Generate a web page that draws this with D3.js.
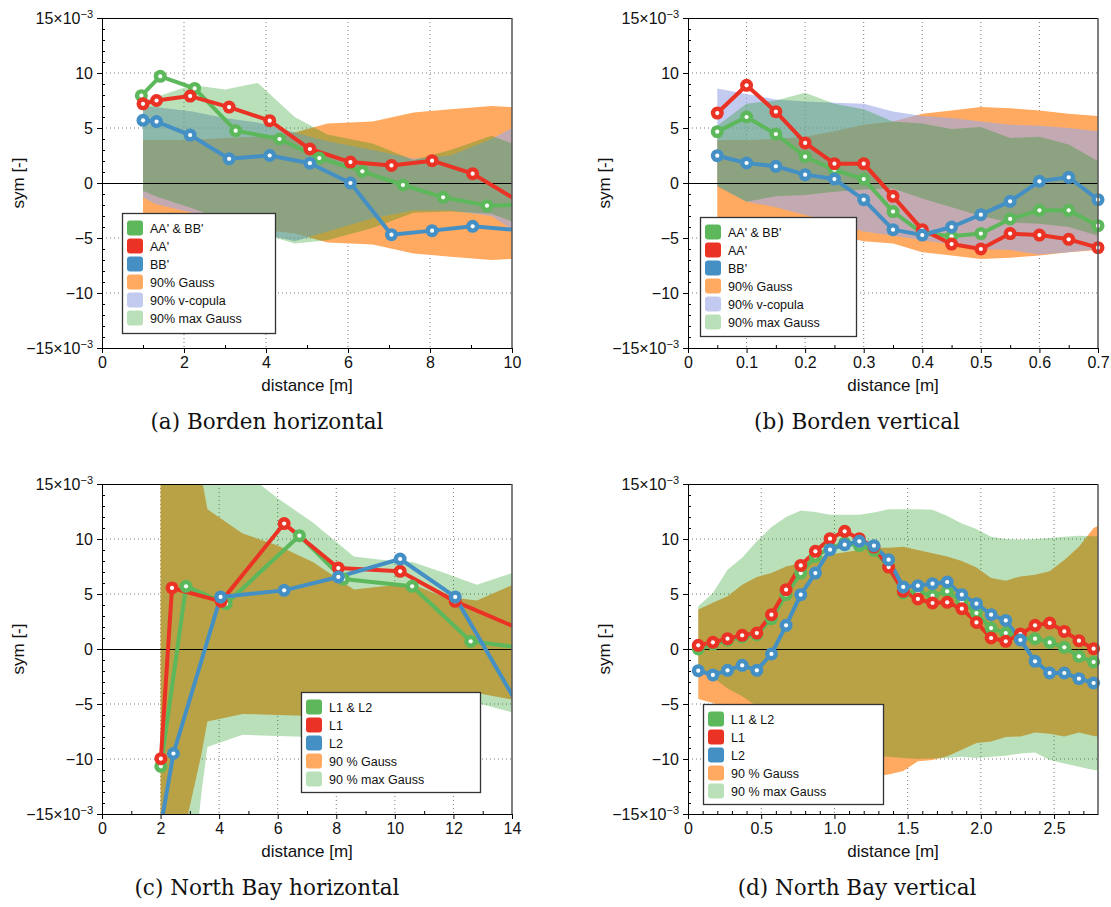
<!DOCTYPE html>
<html>
<head>
<meta charset="UTF-8">
<title>sym vs distance</title>
<script src="https://d3js.org/d3.v7.min.js"></script>
<style>
  html, body { margin: 0; padding: 0; background: #fff; }
  svg { display: block; }
</style>
</head>
<body>
<svg width="1111" height="907"></svg>
<script>
// ---- (a) Borden horizontal ----
const aXLag = [1.0, 1.33, 2.15, 3.1, 4.09, 5.07, 6.06, 7.06, 8.05, 9.04, 10.3];
const aXBoth = [0.96, 1.42, 2.26, 3.26, 4.33, 5.3, 6.35, 7.34, 8.32, 9.39, 10.4];
const aBoth = [7.94, 9.7, 8.6, 4.76, 4.0, 2.27, 1.06, -0.18, -1.3, -2.06, -1.96];
const aAA = [7.2, 7.5, 7.9, 6.9, 5.67, 3.09, 1.9, 1.6, 2.03, 0.85, -1.97];
const aBB = [5.7, 5.58, 4.36, 2.2, 2.5, 1.8, 0.0, -4.7, -4.33, -3.94, -4.33];
const aBandX = [1.0, 1.3, 2.2, 3.0, 3.8, 4.7, 5.5, 6.6, 7.6, 8.5, 9.5, 10.0];
const aGaussHi = [3.9, 3.9, 3.9, 4.1, 4.2, 4.6, 5.4, 5.6, 6.4, 6.7, 7.0, 6.9];
const aGaussLo = [-3.9, -3.9, -3.9, -4.1, -4.2, -4.6, -5.4, -5.6, -6.4, -6.7, -7.0, -6.9];
const aCopHi = [7.0, 6.9, 6.5, 5.9, 5.5, 4.6, 3.8, 3.0, 2.2, 2.5, 4.0, 5.0];
const aCopLo = [-1.3, -1.9, -2.7, -3.6, -4.5, -5.3, -4.4, -3.2, -2.5, -2.5, -3.0, -4.2];
const aMaxHi = [7.4, 7.8, 8.9, 8.5, 9.1, 6.0, 4.4, 3.6, 2.1, 3.0, 4.3, 3.6];
const aMaxLo = [-0.7, -1.2, -2.3, -3.4, -4.5, -5.5, -5.2, -4.1, -2.7, -2.6, -2.8, -3.5];

// ---- (b) Borden vertical ----
const bX = [0.05, 0.1, 0.15, 0.2, 0.25, 0.3, 0.35, 0.4, 0.45, 0.5, 0.55, 0.6, 0.65, 0.7];
const bBoth = [4.67, 6.0, 4.45, 2.39, 1.2, 0.36, -2.6, -4.55, -4.85, -4.6, -3.27, -2.48, -2.48, -3.88];
const bAA = [6.36, 8.88, 6.48, 3.64, 1.76, 1.76, -1.21, -4.24, -5.55, -6.0, -4.6, -4.73, -5.12, -5.88];
const bBB = [2.48, 1.82, 1.52, 0.76, 0.36, -1.52, -4.24, -4.73, -4.0, -2.88, -1.67, 0.15, 0.52, -1.52];
const bGaussHi = [3.9, 3.9, 4.0, 4.2, 4.7, 5.3, 5.6, 6.3, 6.6, 6.9, 6.8, 6.6, 6.3, 6.1];
const bGaussLo = [-3.9, -3.9, -4.0, -4.2, -4.7, -5.3, -5.5, -6.3, -6.6, -6.9, -6.8, -6.6, -6.3, -6.1];
const bCopHi = [8.6, 8.1, 7.6, 7.4, 7.3, 7.2, 6.5, 6.1, 5.9, 5.6, 5.3, 5.2, 5.0, 4.7];
const bCopLo = [-0.3, -1.7, -2.2, -2.9, -3.6, -4.4, -4.8, -5.2, -5.6, -6.0, -6.1, -6.5, -6.3, -6.0];
const bMaxHi = [5.2, 7.2, 7.5, 8.2, 7.2, 6.7, 5.6, 5.4, 4.9, 5.1, 4.1, 4.2, 3.5, 2.0];
const bMaxLo = [-0.3, -1.7, -1.2, -1.1, -0.8, -0.6, -0.5, -1.4, -2.2, -3.0, -3.6, -3.7, -4.0, -4.8];

// ---- (c) North Bay horizontal ----
const cXBoth = [2.01, 2.87, 4.24, 6.74, 8.24, 10.59, 12.59, 14.6];
const cBoth = [-10.67, 5.7, 4.12, 10.3, 6.36, 5.7, 0.7, 0.04];
const cXL1 = [2.01, 2.39, 4.07, 6.22, 8.07, 10.18, 12.06, 14.3];
const cL1 = [-9.97, 5.55, 4.33, 11.4, 7.36, 7.06, 4.33, 1.78];
const cXL2 = [2.0, 2.44, 4.05, 6.22, 8.07, 10.18, 12.06, 14.2];
const cL2 = [-16.2, -9.5, 4.73, 5.33, 6.55, 8.18, 4.73, -5.07];
const cBandX = [2.0, 2.9, 3.4, 3.6, 4.8, 6.0, 7.2, 8.6, 9.6, 10.6, 11.6, 12.8, 14.0];
const cGaussHi = [45, 25, 15.6, 12.7, 10.5, 9.4, 7.9, 5.4, 5.7, 5.9, 4.8, 4.4, 5.8];
const cGaussLo = [-45, -15.5, -9.5, -6.6, -5.9, -6.0, -6.1, -6.0, -5.6, -5.2, -4.6, -4.0, -4.6];
const cMaxHi = [45, 30, 25, 22, 16.2, 13.7, 11.5, 8.4, 8.1, 7.9, 7.0, 5.85, 6.9];
const cMaxLo = [-45, -25, -13, -8.9, -7.8, -7.9, -8.0, -7.5, -7.0, -6.5, -5.8, -4.9, -5.75];

// ---- (d) North Bay vertical ----
const dX = [0.07, 0.17, 0.27, 0.37, 0.47, 0.57, 0.67, 0.77, 0.87, 0.97, 1.07, 1.17, 1.27, 1.37,
            1.47, 1.57, 1.67, 1.77, 1.87, 1.97, 2.07, 2.17, 2.27, 2.37, 2.47, 2.57, 2.67, 2.77];
const dBoth = [0.0, 0.45, 0.8, 1.1, 1.3, 2.76, 4.94, 6.9, 8.42, 9.18, 9.64, 9.4, 8.97, 7.5,
               5.1, 5.2, 4.85, 5.24, 4.33, 3.27, 1.9, 1.45, 1.0, 0.94, 0.6, 0.15, -0.67, -1.18];
const dL1 = [0.33, 0.61, 0.94, 1.24, 1.45, 3.12, 5.39, 7.6, 8.88, 10.03, 10.7, 10.03, 9.27, 7.45,
             5.24, 4.55, 4.18, 4.24, 3.67, 2.42, 1.0, 0.7, 1.36, 2.15, 2.36, 1.6, 0.76, 0.03];
const dL2 = [-1.97, -2.36, -1.94, -1.48, -1.94, -0.45, 2.15, 4.94, 6.9, 9.03, 9.48, 9.79, 9.39, 8.12,
             5.64, 5.76, 5.94, 6.09, 4.94, 4.12, 3.12, 2.6, 0.82, -1.12, -2.18, -2.18, -2.7, -3.09];
const dBandX = [0.07, 0.17, 0.27, 0.37, 0.47, 0.57, 0.67, 0.77, 0.87, 0.97, 1.07, 1.17, 1.27, 1.37,
                1.47, 1.57, 1.67, 1.77, 1.87, 1.97, 2.07, 2.17, 2.27, 2.37, 2.47, 2.57, 2.67, 2.77, 2.87];
const dGaussHi = [3.58, 4.2, 4.8, 5.85, 6.55, 6.9, 7.5, 7.8, 8.3, 8.6, 8.8, 9.0, 9.2, 9.2,
                  9.3, 9.0, 8.7, 8.4, 8.0, 7.4, 6.45, 6.2, 6.6, 6.75, 7.06, 8.1, 9.3, 11.0, 11.6];
const dGaussLo = [-4.55, -4.9, -5.5, -6.3, -7.2, -8.0, -8.8, -9.5, -10.2, -10.8, -11.2, -11.5, -11.6, -11.4,
                  -11.1, -10.2, -10.1, -9.75, -9.15, -8.55, -8.4, -8.0, -7.95, -7.6, -7.7, -7.95, -7.6, -7.9, -8.1];
const dMaxHi = [3.88, 5.1, 7.2, 8.3, 9.8, 11.1, 12.0, 12.6, 12.45, 12.2, 12.2, 12.2, 12.4, 12.7,
                12.7, 12.7, 12.65, 12.1, 11.4, 10.9, 10.2, 10.0, 9.95, 10.0, 10.1, 10.2, 10.3, 10.25, 10.2];
const dMaxLo = [-1.9, -2.6, -3.6, -4.3, -5.2, -6.0, -6.8, -7.5, -8.2, -8.8, -9.2, -9.5, -9.7, -9.8,
                -9.9, -10.0, -9.95, -9.9, -9.8, -9.9, -9.8, -9.7, -9.5, -9.4, -10.1, -10.4, -10.7, -11.0, -11.1];

const yMajor = [-15, -10, -5, 0, 5, 10, 15];
const yMinor = d3.range(-15, 16, 1).filter(d => d % 5 !== 0);

// couleurs
const GREEN = "#5cb85a", RED = "#ea3325", BLUE = "#4490c5";
const fillGauss = { fill: "#ffaa60", op: 1 };
const fillCop = { fill: "rgb(158,170,229)", op: 0.62 };
const fillMax = { fill: "rgb(2,144,2)", op: 0.28 };

const svg = d3.select("svg");
const SANS = "'Liberation Sans', Arial, sans-serif";

function minus(v) { return v < 0 ? "\u2212" + (-v) : String(v); }

function drawPanel(p) {
  const x = d3.scaleLinear().domain(p.xDomain).range([p.left, p.left + p.width]);
  const y = d3.scaleLinear().domain([-15, 15]).range([p.top + p.height, p.top]);
  const clipId = "clip-" + p.id;
  svg.append("clipPath").attr("id", clipId).append("rect")
    .attr("x", p.left).attr("y", p.top).attr("width", p.width).attr("height", p.height);

  const g = svg.append("g");

  // grille pointillée (sous les bandes)
  const grid = g.append("g").attr("stroke", "#7a7a7a").attr("stroke-width", 1).attr("stroke-dasharray", "1,3");
  grid.selectAll("line.gx")
    .data(p.xTicks.filter(d => d > p.xDomain[0] && d < p.xDomain[1]))
    .join("line").attr("class", "gx")
    .attr("x1", d => x(d)).attr("x2", d => x(d))
    .attr("y1", p.top).attr("y2", p.top + p.height);
  grid.selectAll("line.gy")
    .data([-10, -5, 5, 10])
    .join("line").attr("class", "gy")
    .attr("x1", p.left).attr("x2", p.left + p.width)
    .attr("y1", d => y(d)).attr("y2", d => y(d));

  // bandes de confiance
  const bandG = g.append("g").attr("clip-path", `url(#${clipId})`);
  p.bands.forEach(b => {
    const area = d3.area()
      .x(i => x(b.x[i]))
      .y0(i => y(b.lo[i]))
      .y1(i => y(b.hi[i]));
    bandG.append("path")
      .attr("d", area(d3.range(b.x.length)))
      .attr("fill", b.style.fill)
      .attr("fill-opacity", b.style.op);
  });

  // ligne zéro
  const y0 = Math.round(y(0)) + 0.5;
  g.append("line")
    .attr("x1", p.left).attr("x2", p.left + p.width)
    .attr("y1", y0).attr("y2", y0)
    .attr("stroke", "#000").attr("stroke-width", 1.2);

  // séries
  const lineG = g.append("g").attr("clip-path", `url(#${clipId})`);
  const markG = g.append("g");
  p.series.forEach(s => {
    const pts = s.x.map((v, i) => [v, s.y[i]]);
    lineG.append("path")
      .attr("d", d3.line().x(d => x(d[0])).y(d => y(d[1]))(pts))
      .attr("fill", "none")
      .attr("stroke", s.color)
      .attr("stroke-width", 4)
      .attr("stroke-linejoin", "round");
    const vis = pts.filter(d => d[0] >= p.xDomain[0] && d[0] <= p.xDomain[1] && d[1] >= -15 && d[1] <= 15);
    const mg = markG.append("g");
    mg.selectAll("circle.o").data(vis).join("circle").attr("class", "o")
      .attr("cx", d => x(d[0])).attr("cy", d => y(d[1])).attr("r", 6.5)
      .attr("fill", s.color);
    mg.selectAll("circle.i").data(vis).join("circle").attr("class", "i")
      .attr("cx", d => x(d[0])).attr("cy", d => y(d[1])).attr("r", 2.1)
      .attr("fill", "#fff");
  });

  // cadre haut / droite
  g.append("line").attr("x1", p.left).attr("x2", p.left + p.width)
    .attr("y1", p.top + 0.5).attr("y2", p.top + 0.5).attr("stroke", "#000").attr("stroke-width", 1);
  g.append("line").attr("x1", p.left + p.width).attr("x2", p.left + p.width)
    .attr("y1", p.top).attr("y2", p.top + p.height).attr("stroke", "#555").attr("stroke-width", 1.5);

  // axe Y
  const yAx = g.append("g").attr("transform", `translate(${p.left},0)`)
    .call(d3.axisLeft(y).tickValues(yMajor).tickSize(5).tickSizeOuter(0).tickPadding(4).tickFormat(""));
  yAx.selectAll(".tick text").each(function (d) {
    const t = d3.select(this);
    if (Math.abs(d) === 15) {
      t.append("tspan").text((d < 0 ? "\u2212" : "") + "15\u00d710");
      t.append("tspan").attr("dy", "-0.55em").attr("font-size", "11px").text("\u22123");
    } else {
      t.text(minus(d));
    }
  });
  g.append("g").attr("transform", `translate(${p.left},0)`)
    .call(d3.axisLeft(y).tickValues(yMinor).tickSize(-3).tickFormat(""))
    .call(s => s.select(".domain").remove());

  // axe X
  const xAx = g.append("g").attr("transform", `translate(0,${p.top + p.height})`)
    .call(d3.axisBottom(x).tickValues(p.xTicks).tickSize(5).tickSizeOuter(0).tickPadding(4).tickFormat(p.xFormat));
  g.append("g").attr("transform", `translate(0,${p.top + p.height})`)
    .call(d3.axisBottom(x).tickValues(p.xMinor).tickSize(-3).tickFormat(""))
    .call(s => s.select(".domain").remove());

  [yAx, xAx].forEach(a => {
    a.attr("font-family", SANS).attr("font-size", 16);
    a.selectAll("text").attr("fill", "#111");
    a.select(".domain").attr("stroke", "#000");
  });
  g.selectAll(".tick line").attr("stroke", "#000");

  // titres d'axes
  g.append("text")
    .attr("x", p.left + p.width / 2).attr("y", p.top + p.height + 43)
    .attr("text-anchor", "middle").attr("font-family", SANS).attr("font-size", 17).attr("fill", "#111")
    .text("distance [m]");
  g.append("text")
    .attr("transform", `translate(${p.left - 78},${p.top + p.height / 2}) rotate(-90)`)
    .attr("text-anchor", "middle").attr("font-family", SANS).attr("font-size", 17).attr("fill", "#111")
    .text("sym [-]");

  // légende
  const L = p.legend;
  const lg = g.append("g");
  lg.append("rect").attr("x", L.x + 0.5).attr("y", L.y + 0.5).attr("width", L.w).attr("height", L.h)
    .attr("fill", "#fff").attr("stroke", "#333").attr("stroke-width", 1.3);
  L.items.forEach((it, i) => {
    const cy = L.y + 15 + i * 18;
    lg.append("rect").attr("x", L.x + 5).attr("y", cy - 7.5).attr("width", 16).attr("height", 15)
      .attr("rx", 3).attr("fill", it.fill).attr("fill-opacity", it.op);
    lg.append("text").attr("x", L.x + 28).attr("y", cy + 4.5)
      .attr("font-family", SANS).attr("font-size", 12.5).attr("fill", "#111")
      .text(it.label);
  });

  // légende de sous-figure
  svg.append("text")
    .attr("x", p.capX).attr("y", p.top + p.height + 81)
    .attr("text-anchor", "middle")
    .attr("font-family", "'DejaVu Serif', 'Liberation Serif', serif").attr("font-size", 21.5).attr("fill", "#111")
    .text(p.caption);
}

const borderLegend = [
  { label: "AA' & BB'", fill: GREEN, op: 1 },
  { label: "AA'", fill: RED, op: 1 },
  { label: "BB'", fill: BLUE, op: 1 },
  { label: "90% Gauss", fill: fillGauss.fill, op: fillGauss.op },
  { label: "90% v-copula", fill: fillCop.fill, op: fillCop.op },
  { label: "90% max Gauss", fill: fillMax.fill, op: fillMax.op }
];
const northLegend = [
  { label: "L1 & L2", fill: GREEN, op: 1 },
  { label: "L1", fill: RED, op: 1 },
  { label: "L2", fill: BLUE, op: 1 },
  { label: "90 % Gauss", fill: fillGauss.fill, op: fillGauss.op },
  { label: "90 % max Gauss", fill: fillMax.fill, op: fillMax.op }
];
const intFmt = d => String(d);
const decFmt = d => d === 0 ? "0" : d3.format(".1f")(d);

drawPanel({
  id: "a", left: 102, top: 18, width: 410, height: 330,
  xDomain: [0, 10], xTicks: [0, 2, 4, 6, 8, 10], xMinor: [1, 3, 5, 7, 9], xFormat: intFmt,
  bands: [
    { x: aBandX, lo: aGaussLo, hi: aGaussHi, style: fillGauss },
    { x: aBandX, lo: aCopLo, hi: aCopHi, style: fillCop },
    { x: aBandX, lo: aMaxLo, hi: aMaxHi, style: fillMax }
  ],
  series: [
    { x: aXBoth, y: aBoth, color: GREEN },
    { x: aXLag, y: aAA, color: RED },
    { x: aXLag, y: aBB, color: BLUE }
  ],
  legend: { x: 122, y: 213, w: 153, h: 120, items: borderLegend },
  caption: "(a) Borden horizontal", capX: 267
});

drawPanel({
  id: "b", left: 688, top: 18, width: 410, height: 330,
  xDomain: [0, 0.7], xTicks: [0, 0.1, 0.2, 0.3, 0.4, 0.5, 0.6, 0.7],
  xMinor: [0.05, 0.15, 0.25, 0.35, 0.45, 0.55, 0.65], xFormat: decFmt,
  bands: [
    { x: bX, lo: bGaussLo, hi: bGaussHi, style: fillGauss },
    { x: bX, lo: bCopLo, hi: bCopHi, style: fillCop },
    { x: bX, lo: bMaxLo, hi: bMaxHi, style: fillMax }
  ],
  series: [
    { x: bX, y: bBoth, color: GREEN },
    { x: bX, y: bAA, color: RED },
    { x: bX, y: bBB, color: BLUE }
  ],
  legend: { x: 700, y: 217, w: 156, h: 119, items: borderLegend },
  caption: "(b) Borden vertical", capX: 857
});

drawPanel({
  id: "c", left: 102, top: 484, width: 410, height: 330,
  xDomain: [0, 14], xTicks: [0, 2, 4, 6, 8, 10, 12, 14], xMinor: [1, 3, 5, 7, 9, 11, 13], xFormat: intFmt,
  bands: [
    { x: cBandX, lo: cGaussLo, hi: cGaussHi, style: fillGauss },
    { x: cBandX, lo: cMaxLo, hi: cMaxHi, style: fillMax }
  ],
  series: [
    { x: cXBoth, y: cBoth, color: GREEN },
    { x: cXL1, y: cL1, color: RED },
    { x: cXL2, y: cL2, color: BLUE }
  ],
  legend: { x: 301, y: 692, w: 179, h: 100, items: northLegend },
  caption: "(c) North Bay horizontal", capX: 267
});

drawPanel({
  id: "d", left: 688, top: 484, width: 410, height: 330,
  xDomain: [0, 2.8], xTicks: [0, 0.5, 1.0, 1.5, 2.0, 2.5],
  xMinor: d3.range(1, 28).filter(i => i % 5 !== 0).map(i => i / 10), xFormat: decFmt,
  bands: [
    { x: dBandX, lo: dGaussLo, hi: dGaussHi, style: fillGauss },
    { x: dBandX, lo: dMaxLo, hi: dMaxHi, style: fillMax }
  ],
  series: [
    { x: dX, y: dBoth, color: GREEN },
    { x: dX, y: dL1, color: RED },
    { x: dX, y: dL2, color: BLUE }
  ],
  legend: { x: 703, y: 704, w: 180, h: 100, items: northLegend },
  caption: "(d) North Bay vertical", capX: 857
});
</script>
</body>
</html>
